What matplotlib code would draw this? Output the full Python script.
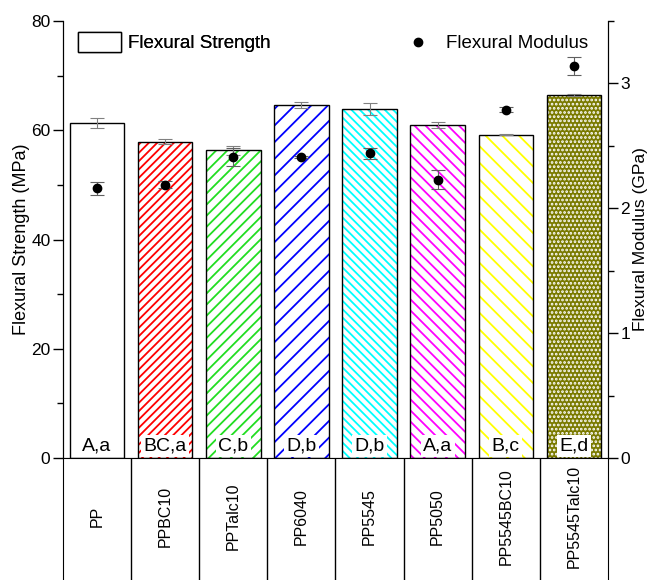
import numpy as np
import matplotlib
matplotlib.use("Agg")
import matplotlib.pyplot as plt
from matplotlib.ticker import MultipleLocator

plt.rcParams['font.family'] = ['Liberation Sans', 'DejaVu Sans']
plt.rcParams['hatch.linewidth'] = 1.3

samples = ["PP", "PPBC10", "PPTalc10", "PP6040", "PP5545", "PP5050", "PP5545BC10", "PP5545Talc10"]
strength = [61.3, 57.9, 56.3, 64.6, 63.9, 61.0, 59.2, 66.4]
strength_err = [0.9, 0.5, 0.9, 0.6, 1.1, 0.6, 0.1, 0.2]
modulus = [2.16, 2.19, 2.41, 2.41, 2.44, 2.23, 2.79, 3.14]
modulus_err = [0.05, 0.03, 0.07, 0.01, 0.045, 0.076, 0.02, 0.073]
groups = ["A,a", "BC,a", "C,b", "D,b", "D,b", "A,a", "B,c", "E,d"]

colors = ["white", "red", "#22dd22", "blue", "cyan", "magenta", "yellow", "#7a7a00"]
hatches = [None, "////", "///", "//", "\\\\\\\\", "\\\\\\", "\\\\", "...."]

fig = plt.figure(figsize=(6.52, 5.8), dpi=100)
ax = fig.add_axes([0.0966, 0.2103, 0.8359, 0.7535])
ax_t = fig.add_axes([0.0966, 0.0, 0.8359, 0.2103])

x = np.arange(len(samples))
for i in range(len(samples)):
    if hatches[i] is None:
        ax.bar(x[i], strength[i], 0.8, color="white", linewidth=0)
    elif i == len(samples) - 1:
        # olive fill with white dots
        ax.bar(x[i], strength[i], 0.8, color=colors[i], edgecolor="white",
               hatch=hatches[i], linewidth=0)
    else:
        ax.bar(x[i], strength[i], 0.8, color="white", edgecolor=colors[i],
               hatch=hatches[i], linewidth=0)
ax.bar(x, strength, 0.8, fill=False, edgecolor="black", linewidth=1.0)
ax.errorbar(x, strength, yerr=strength_err, fmt="none", ecolor="#808080",
            elinewidth=0.8, capsize=5, capthick=0.8)

for i in range(len(samples)):
    ax.text(x[i], 0.7, groups[i], ha="center", va="bottom", fontsize=14,
            bbox=dict(boxstyle="square,pad=0.12", fc="white", ec="none"))

ax.set_xlim(-0.5, 7.5)
ax.set_ylim(0, 80)
ax.set_xticks([])
ax.yaxis.set_major_locator(MultipleLocator(20))
ax.yaxis.set_minor_locator(MultipleLocator(10))
ax.tick_params(axis="y", which="major", length=7, width=1, labelsize=12.5, pad=2)
ax.tick_params(axis="y", which="minor", length=4, width=1)
ax.spines["top"].set_visible(False)
ax.set_ylabel("Flexural Strength (MPa)", fontsize=13, labelpad=1)

ax2 = ax.twinx()
ax2.errorbar(x, modulus, yerr=modulus_err, fmt="o", color="black", ms=6,
             ecolor="#606060", elinewidth=0.8, capsize=5, capthick=0.8)
ax2.set_ylim(0, 3.5)
ax2.yaxis.set_major_locator(MultipleLocator(1))
ax2.yaxis.set_minor_locator(MultipleLocator(0.5))
ax2.tick_params(axis="y", which="major", length=7, width=1, labelsize=12.5, pad=2)
ax2.tick_params(axis="y", which="minor", length=4, width=1)
ax2.spines["top"].set_visible(False)
ax2.set_ylabel("Flexural Modulus (GPa)", fontsize=12.5, labelpad=2)

h1 = plt.Rectangle((0, 0), 1, 1, fc="white", ec="black", lw=1)
leg1 = ax.legend([h1], ["Flexural Strength"], loc="upper left", frameon=False,
                 fontsize=13.5, handlelength=2.3, handleheight=1.3,
                 handletextpad=0.35, borderpad=0, borderaxespad=0,
                 bbox_to_anchor=(0.0275, 0.975))
ax.add_artist(leg1)
h2, = ax2.plot([], [], "o", color="black", ms=6)
ax2.legend([h2], ["Flexural Modulus"], loc="upper right", frameon=False,
           fontsize=13.5, handlelength=1.0, handletextpad=1.0, borderpad=0,
           borderaxespad=0, bbox_to_anchor=(0.963, 0.968))

ax_t.set_xlim(-0.5, 7.5)
ax_t.set_ylim(0, 1)
ax_t.set_xticks([])
ax_t.set_yticks([])
ax_t.spines["top"].set_visible(False)
ax_t.spines["bottom"].set_visible(False)
ax_t.vlines(x[:-1] + 0.5, 0, 1, color="black", lw=1.0)
for i in range(len(samples)):
    ax_t.text(x[i], 0.52, samples[i], rotation=90, ha="center", va="center",
              fontsize=11.5)

fig.savefig("out.png", dpi=100)
